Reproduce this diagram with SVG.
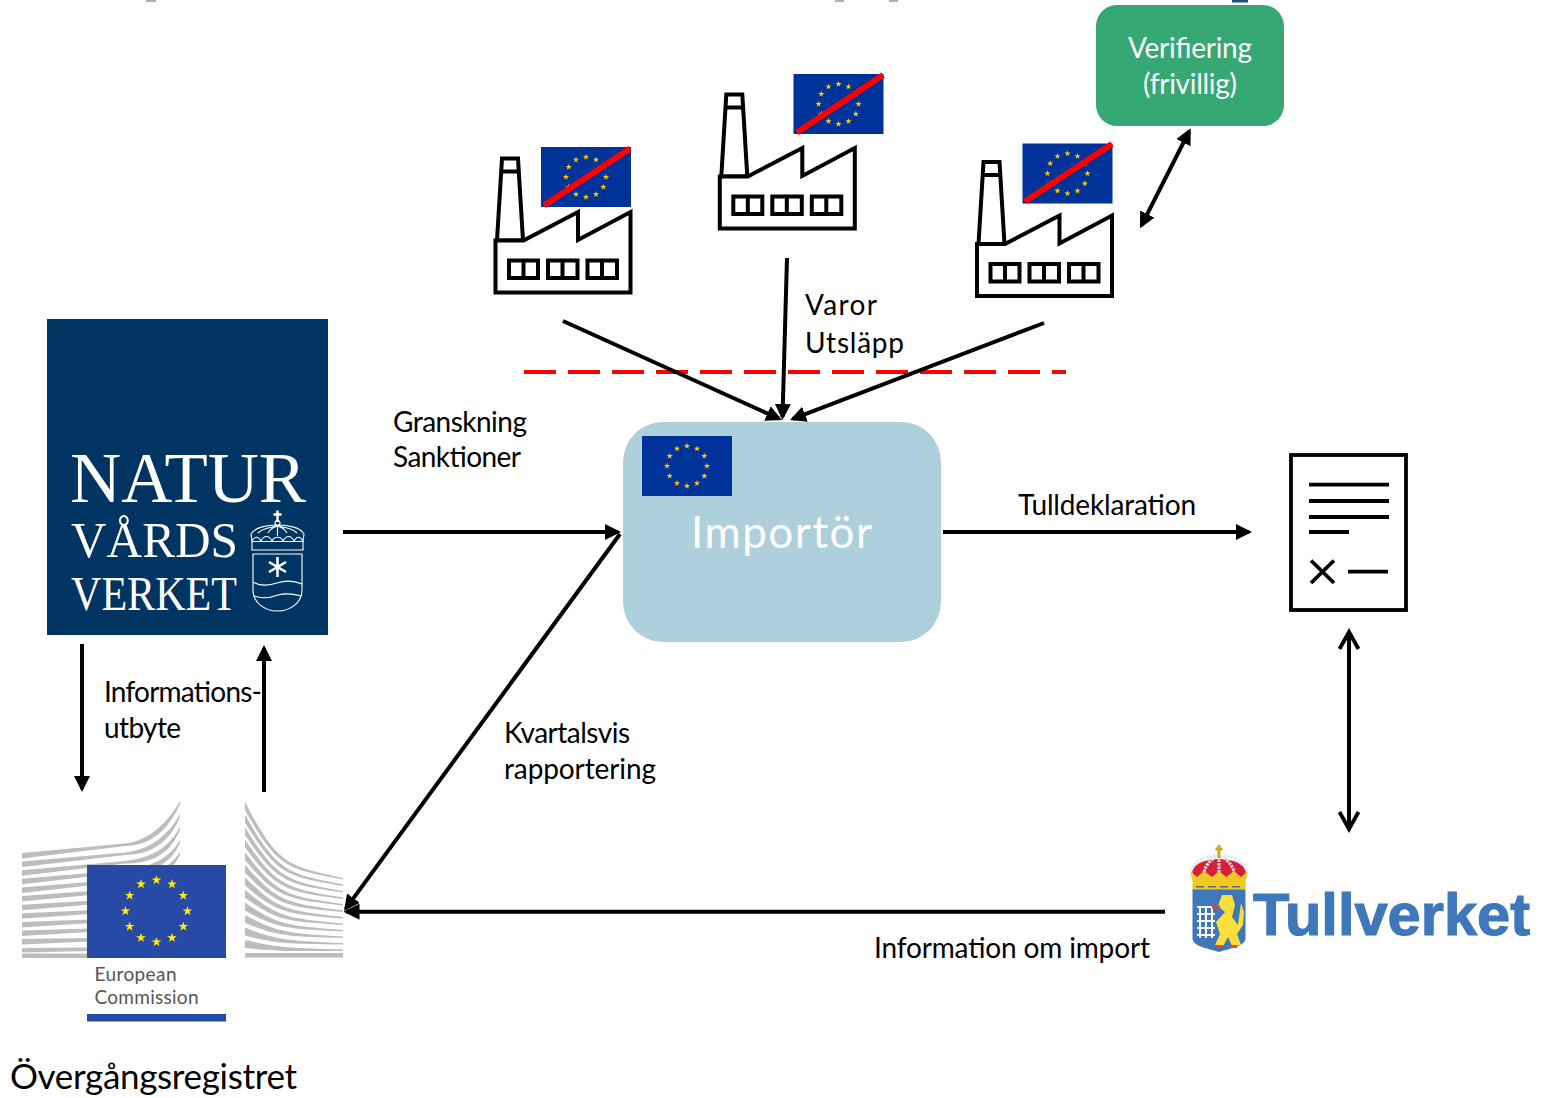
<svg xmlns="http://www.w3.org/2000/svg" xmlns:xlink="http://www.w3.org/1999/xlink" width="1542" height="1098" viewBox="0 0 1542 1098">
<style>
text{font-family:"Lato","Noto Sans","Liberation Sans",sans-serif;fill:#000;font-size:28px}
.wt{fill:#fff}
.ln{fill:none;stroke:#000;stroke-width:4}
.fa{fill:#fff;stroke:#000;stroke-width:4;stroke-linejoin:miter}
.doc{fill:none;stroke:#000;stroke-width:3.800}
.ec{fill:#bdbdbd;stroke:none}
.nv{fill:none;stroke:#fff;stroke-width:1.100}
.nvt{font-family:"Liberation Serif",serif;fill:#fff}
.strike{stroke:#f00;stroke-width:6;fill:none}
</style>
<defs>
<marker id="ah" viewBox="0 0 16 16" refX="13" refY="8" markerWidth="16" markerHeight="16" markerUnits="userSpaceOnUse" orient="auto-start-reverse"><path d="M0 0L16 8L0 16Z" fill="#000"/></marker>
<marker id="open" viewBox="0 0 24 24" refX="20" refY="12" markerWidth="24" markerHeight="24" markerUnits="userSpaceOnUse" orient="auto-start-reverse"><path d="M3 2.500L20 12L3 21.500" fill="none" stroke="#000" stroke-width="3.800"/></marker>
<polygon id="star" points="0,-1 .225,-.309 .951,-.309 .363,.118 .588,.809 0,.382 -.588,.809 -.363,.118 -.951,-.309 -.225,-.309"/>
<g id="ring">
<use xlink:href="#star" transform="translate(0,-20) scale(3.3)"/><use xlink:href="#star" transform="translate(10,-17.3) scale(3.3)"/><use xlink:href="#star" transform="translate(17.3,-10) scale(3.3)"/><use xlink:href="#star" transform="translate(20,0) scale(3.3)"/><use xlink:href="#star" transform="translate(17.3,10) scale(3.3)"/><use xlink:href="#star" transform="translate(10,17.3) scale(3.3)"/><use xlink:href="#star" transform="translate(0,20) scale(3.3)"/><use xlink:href="#star" transform="translate(-10,17.3) scale(3.3)"/><use xlink:href="#star" transform="translate(-17.3,10) scale(3.3)"/><use xlink:href="#star" transform="translate(-20,0) scale(3.3)"/><use xlink:href="#star" transform="translate(-17.3,-10) scale(3.3)"/><use xlink:href="#star" transform="translate(-10,-17.3) scale(3.3)"/>
</g>
<g id="flag"><rect width="90" height="60" fill="#003399"/><use xlink:href="#ring" transform="translate(45,30)" fill="#ffcc00"/></g>
<g id="factory">
<path class="fa" d="M497 240.500L502 158.500H518L523 240.500Z"/>
<path class="fa" d="M495.500 240.500H523.500L578 212V240L630.500 212V292.500H495.500Z"/>
<path class="fa" d="M500 171.500H520" />
<path class="fa" d="M509 260.500H538V278H509ZM523.500 260.500V278M548 260.500H577.500V278H548ZM562.500 260.500V278M587.500 260.500H617V278H587.500ZM602 260.500V278"/>
</g>
</defs>

<g id="header-fragments">
<rect x="146" y="0" width="10" height="2" fill="#9db3d0"/><rect x="835" y="0" width="9" height="2" fill="#9db3d0"/><rect x="889" y="0" width="9" height="2" fill="#9db3d0"/><rect x="1232" y="0" width="16" height="2.500" fill="#1f4e85"/>
</g>

<g id="connectors">
<line x1="524" y1="372" x2="1066" y2="372" stroke="#f00" stroke-width="4" stroke-dasharray="32 12"/>
<path class="ln" marker-end="url(#ah)" d="M563 321L779.300 418.800"/>
<path class="ln" marker-end="url(#ah)" d="M787 258L782.500 417"/>
<path class="ln" marker-end="url(#ah)" d="M1044 323L792.800 418.900"/>
<path class="ln" marker-end="url(#ah)" d="M343 532H618"/>
<path class="ln" marker-end="url(#ah)" d="M943 532H1249"/>
<path class="ln" marker-end="url(#ah)" d="M620 534L345.800 908.600"/>
<path class="ln" marker-end="url(#ah)" d="M1165 911.700H346.500"/>
<path class="ln" marker-start="url(#open)" marker-end="url(#open)" d="M1349 632V829"/>
<path class="ln" marker-start="url(#ah)" marker-end="url(#ah)" d="M1189.300 131L1141.400 225.600"/>
<path class="ln" marker-end="url(#ah)" d="M82 644V789"/>
<path class="ln" marker-end="url(#ah)" d="M264 792V648"/>
</g>

<g id="verifiering">
<rect x="1096" y="5" width="188" height="121" rx="21" fill="#36a873"/>
<text class="wt" x="1190" y="58" text-anchor="middle" textLength="124">Verifiering</text>
<text class="wt" x="1190" y="94" text-anchor="middle" textLength="94">(frivillig)</text>
</g>

<g id="factory-1"><use xlink:href="#factory"/><use xlink:href="#flag" x="541" y="147"/><path class="strike" d="M544 205.500L630 148.500"/></g>
<g id="factory-2"><use xlink:href="#factory" x="224.300" y="-64"/><use xlink:href="#flag" x="793.500" y="74"/><path class="strike" d="M797 132.500L883 75"/></g>
<g id="factory-3"><use xlink:href="#factory" x="481.500" y="3.500"/><use xlink:href="#flag" x="1022.500" y="143.500"/><path class="strike" d="M1025 201.500L1112 144"/></g>

<g id="importor">
<rect x="623" y="422" width="318" height="220" rx="40" fill="#aecfdc"/>
<use xlink:href="#flag" x="642" y="436"/>
<text class="wt" x="691" y="548" style="font-size:44px" textLength="181">Importör</text>
</g>

<g id="document">
<rect class="doc" x="1291" y="455" width="115" height="155"/>
<path class="doc" d="M1309 484.700H1389M1309 501H1389M1309 517H1389M1309 532H1349M1311 560.500L1334 583M1334 560.500L1311 583M1348 571.700H1388"/>
</g>

<g id="naturvardsverket">
<rect x="47" y="319" width="281" height="316" fill="#003463"/>
<text class="nvt" x="70" y="502" style="font-size:72px" textLength="236" lengthAdjust="spacingAndGlyphs">NATUR</text>
<text class="nvt" x="71" y="557" style="font-size:50px" textLength="167" lengthAdjust="spacingAndGlyphs">VÅRDS</text>
<text class="nvt" x="71" y="610" style="font-size:48px" textLength="166" lengthAdjust="spacingAndGlyphs">VERKET</text>
<path class="nv" d="M253 554H302V590C302 603 290 611 277.500 611C265 611 253 603 253 590Z"/>
<path class="nv" d="M252 550H303V541.500H252Z"/>
<path class="nv" d="M251 534C255 527 268 525 277.500 525C287 525 300 527 304 534L303 541C300 536 297 536 294 541C291 535 286 535 283 541C281 536 274 536 272 541C269 535 264 535 261 541C258 536 255 536 252 541ZM258 533C262 529 270 527 277.500 526C285 527 293 529 297 533M268 533C270 529 274 527 277.500 526C281 527 285 529 287 533M277.500 526V536"/>
<path d="M277.500 510.500V522M273.500 514.500H281.500" stroke="#fff" stroke-width="2.400" fill="none"/>
<circle class="nv" cx="277.500" cy="523" r="2.500"/>
<path d="M277.500 557V577M269 562L286 572M286 562L269 572" stroke="#fff" stroke-width="2.600" fill="none"/>
<path class="nv" d="M253 582C260 586 268 586 277 583C286 580 295 581 302 584M254 596C262 599 270 598 278 595C286 593 294 594 301 596"/>
</g>

<g id="european-commission">
<g class="ec">
<path d="M22 853L125 843.500C150 840.500 168 822 180 801V804C170 827 152 846 125 846L22 858.500Z"/>
<path d="M22 861.600L125 852.500C150 849.500 168 836 180 814V817C170 841 152 855 125 855L22 867.100Z"/>
<path d="M22 870.200L125 861C150 858 168 849 180 827V830C170 854 152 863.500 125 863.500L22 875.700Z"/>
<path d="M22 878.800L125 870C150 867 168 860 180 840V843C170 865 152 872.500 125 872.500L22 884.300Z"/>
<path d="M22 887.400L125 879C150 877 168 870 180 852V855C170 875 152 881.500 125 881.500L22 892.900Z"/>
<path d="M22 896L90 891V895L22 901.500Z"/>
<path d="M22 904.700L90 900.700V904.500L22 910.200Z"/>
<path d="M22 913.300L90 910.300V914L22 918.800Z"/>
<path d="M22 922L90 919.500V923L22 927.500Z"/>
<path d="M22 930.500L90 928.500V932L22 936Z"/>
<path d="M22 939L90 938V941.500L22 944.500Z"/>
<path d="M22 948L90 947.500V951L22 952.500Z"/>
<path d="M22 953.500H90V958H22Z"/>
<path d="M245 802C278 865.800 288 865.800 343 878V879.600C288 869 278 869.300 245 810Z"/>
<path d="M245 814.500C278 873.300 288 873.300 343 884.500V886.100C288 876.500 278 876.800 245 822.500Z"/>
<path d="M245 827C278 880.800 288 880.800 343 891V892.600C288 884 278 884.300 245 835Z"/>
<path d="M245 839.600C278 888.200 288 888.200 343 897.500V899.100C288 891.400 278 891.700 245 847.600Z"/>
<path d="M245 852.200C278 895.700 288 895.700 343 904V905.600C288 898.900 278 899.200 245 860.200Z"/>
<path d="M245 864.700C278 903.200 288 903.200 343 910.500V912.100C288 906.400 278 906.700 245 872.700Z"/>
<path d="M245 877.300C278 910.600 288 910.600 343 917V918.600C288 913.800 278 914.100 245 885.300Z"/>
<path d="M245 889.800C278 918.100 288 918.100 343 923.500V925.100C288 921.300 278 921.600 245 897.800Z"/>
<path d="M245 902.400C278 925.600 288 925.600 343 930V931.600C288 928.800 278 929.100 245 910.400Z"/>
<path d="M245 915C278 933.100 288 933.100 343 936.500V938.100C288 936.300 278 936.600 245 923Z"/>
<path d="M245 927.500C278 940.500 288 940.500 343 943V944.600C288 943.700 278 944 245 935.500Z"/>
<path d="M245 940C278 948 288 948 343 949.500V951.100C288 951 278 951.500 245 948Z"/>
<path d="M245 953H343V957.500H245Z"/>
</g>
<rect x="87" y="865" width="139" height="93" fill="#264aa6"/>
<use xlink:href="#ring" transform="translate(156.500,911) scale(1.55)" fill="#ffed00"/>
<text x="94.500" y="981" style="font-size:19px;fill:#555" textLength="82">European</text>
<text x="94.500" y="1004" style="font-size:19px;fill:#555" textLength="104">Commission</text>
<rect x="87" y="1014" width="139" height="7.500" fill="#264aa6"/>
<text x="10" y="1089" style="font-size:35px" textLength="287">Övergångsregistret</text>
</g>

<g id="tullverket">
<path d="M1192.500 889H1245.500V938C1245.500 946 1232 948 1219 952C1206 948 1192.500 946 1192.500 938Z" fill="#3f77bb"/>
<path d="M1192 871C1195 863 1206 859 1219 859C1232 859 1243 863 1246 871L1244 880H1194Z" fill="#d81e3f"/>
<path d="M1191 871C1195 860 1207 856 1219 856C1231 856 1243 860 1247 871M1204 872C1206 864 1212 858 1219 856C1226 858 1232 864 1234 872M1219 856V872" fill="none" stroke="#e4e4e4" stroke-width="3" stroke-dasharray="2.500 1"/>
<path d="M1190 871L1197 877L1204 871L1212 877L1219 871L1226 877L1234 871L1241 877L1248 871L1245 884H1193Z" fill="#f0c925"/>
<rect x="1192.500" y="884" width="53" height="5.500" fill="#f0c925"/>
<path d="M1196 886.800H1242" stroke="#5a6b7a" stroke-width="1.500" stroke-dasharray="8 4"/>
<path d="M1219 845V858M1215.500 849H1222.500" stroke="#d9a520" stroke-width="3"/>
<path d="M1197 907H1215M1197 914H1215M1197 921H1215M1197 928H1215M1197 935H1215M1200 906V938M1206 906V938M1212 906V938" stroke="#fff" stroke-width="2" fill="none"/>
<path d="M1222 895L1232 895L1235 905L1232 917L1238 925L1241 903L1244 912L1243 925L1237 934L1241 945L1232 946L1228 937L1223 946L1215 945L1220 934L1216 922L1225 912L1218 906Z" fill="#fbe03b"/>
<path d="M1215 946.500h8M1229 946.500h8M1212 907h8" stroke="#e0443a" stroke-width="3"/>
<text x="1253" y="935" style="font-family:'Liberation Sans',sans-serif;font-weight:bold;font-size:60px;fill:#3f77bb;stroke:#3f77bb;stroke-width:1.200" textLength="277" lengthAdjust="spacingAndGlyphs">Tullverket</text>
</g>

<g id="labels">
<text x="805" y="315" textLength="72">Varor</text>
<text x="805" y="353" textLength="99">Utsläpp</text>
<text x="393" y="432" textLength="134">Granskning</text>
<text x="393" y="467" textLength="128">Sanktioner</text>
<text x="1018" y="515" textLength="178">Tulldeklaration</text>
<text x="874" y="958" textLength="276">Information om import</text>
<text x="104" y="702" textLength="158">Informations-</text>
<text x="104" y="738" textLength="77">utbyte</text>
<text x="504" y="743" textLength="126">Kvartalsvis</text>
<text x="504" y="779" textLength="152">rapportering</text>
</g>
</svg>
